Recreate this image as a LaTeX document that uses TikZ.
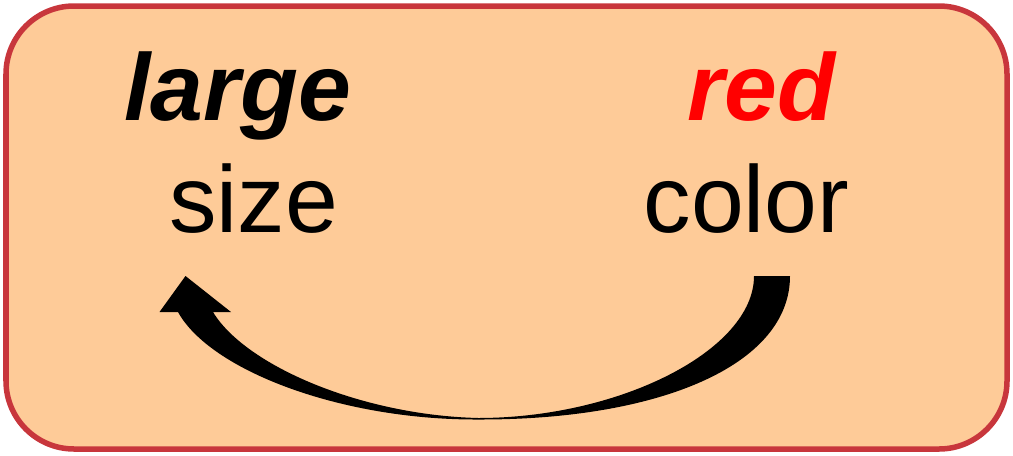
\documentclass[tikz,border=0pt]{standalone}
\usepackage{fontspec}
\setmainfont{Liberation Sans}
\definecolor{boxfill}{HTML}{FECB98}
\definecolor{boxline}{HTML}{C8363C}
\definecolor{wordred}{HTML}{FF0000}
\begin{document}
\begin{tikzpicture}[x=0.025cm,y=-0.025cm,
  word/.style={anchor=base,inner sep=0pt,font=\fontsize{67.5}{80}\selectfont},
  attr/.style={word,font=\fontsize{67.5}{80}\selectfont\bfseries\itshape}]
\useasboundingbox (0,0) rectangle (1013,455);
\draw[boxline,fill=boxfill,line width=5.5*0.7113pt,rounded corners=68*0.7113pt]
  (6,6) rectangle (1007,449);
\node[attr] (large) at (237.5,120) {large};
\node[attr,text=wordred] (red) at (761.5,120) {red};
\node[word] (size) at (253.5,232) {size};
\node[word] (color) at (746.5,232) {color};
% curved tapered arrow from color to size
\fill[black] (790,276) .. controls (790,365) and (660,420) .. (478,419.5)
  .. controls (340,420) and (210,370) .. (178,312)
  -- (159.5,312) -- (185.5,276) -- (231,312) -- (213,312)
  .. controls (245,365) and (360,415) .. (478,418)
  .. controls (620,418) and (754,350) .. (754,276) -- cycle;
\end{tikzpicture}
\end{document}
